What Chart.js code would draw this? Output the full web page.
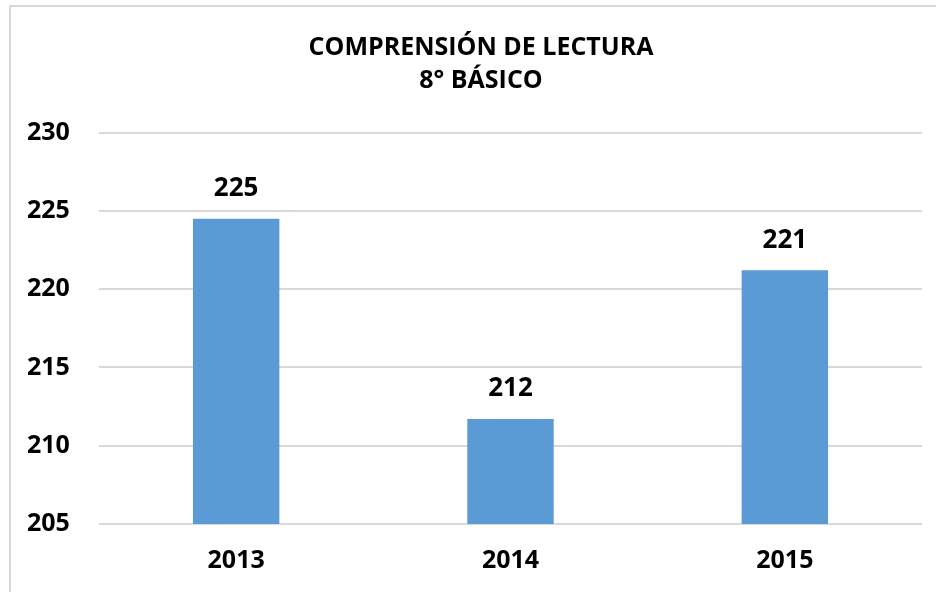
<!DOCTYPE html>
<html>
<head>
<meta charset="utf-8">
<script src="https://cdn.jsdelivr.net/npm/chart.js@4/dist/chart.umd.min.js"></script>
<style>
  html, body { margin: 0; padding: 0; background: #fff; overflow: hidden; }
  #wrap { position: relative; width: 936px; height: 592px; overflow: hidden; }
  #frame { position: absolute; left: 9px; top: 5px; width: 1000px; height: 1000px;
           border-left: 2px solid #d9d9d9; border-top: 2px solid #d9d9d9; }
  canvas { position: absolute; left: 0; top: 0; }
</style>
</head>
<body>
<div id="wrap">
  <div id="frame"></div>
  <canvas id="chart" width="936" height="592"></canvas>
</div>
<script>
var years = ["2013", "2014", "2015"];
var scores = [224.5, 211.7, 221.2];
var scoreLabels = ["225", "212", "221"];
var yTicks = [205, 210, 215, 220, 225, 230];
var titleLines = ["COMPRENSIÓN DE LECTURA", "8° BÁSICO"];

var fontFamily = "'Open Sans', 'Noto Sans', sans-serif";

// draws the value over each bar
var barValues = {
    id: 'barValues',
    afterDatasetsDraw: function(chart) {
        var ctx = chart.ctx;
        var meta = chart.getDatasetMeta(0);
        ctx.save();
        ctx.font = "bold 26px " + fontFamily;
        ctx.fillStyle = "#000";
        ctx.textAlign = "center";
        ctx.textBaseline = "middle";
        meta.data.forEach(function(bar, i) {
            ctx.fillText(scoreLabels[i], bar.x, bar.y - 30);
        });
        ctx.restore();
    }
};

var chart = new Chart(document.getElementById("chart").getContext('2d'), {
    type: 'bar',
    data: {
        labels: years,
        datasets: [{
            data: scores,
            backgroundColor: '#5b9bd5',
            borderWidth: 0,
            barPercentage: 0.63,
            categoryPercentage: 0.5
        }]
    },
    options: {
        responsive: false,
        animation: false,
        // left padding pushes the title centre to the right, like the original
        layout: { padding: { left: 40, right: 14, top: 0, bottom: 0 } },
        plugins: {
            legend: { display: false },
            tooltip: { enabled: false },
            title: {
                display: true,
                text: titleLines,
                color: '#000',
                font: { family: fontFamily, size: 25, weight: 'bold', lineHeight: 1.33 },
                padding: { top: 31, bottom: 35 }
            }
        },
        scales: {
            x: {
                afterFit: function(scale) { scale.height = 68; },
                grid: { display: false, drawTicks: false },
                border: { display: false },
                ticks: {
                    color: '#000',
                    padding: 22,
                    font: { family: fontFamily, size: 25, weight: 'bold' }
                }
            },
            y: {
                min: 205,
                max: 230,
                afterBuildTicks: function(scale) {
                    scale.ticks = yTicks.map(function(v) { return { value: v }; });
                },
                afterFit: function(scale) { scale.width = 59; },
                grid: { color: '#d9d9d9', lineWidth: 2, drawTicks: false },
                border: { display: false },
                ticks: {
                    // mirrored so the labels are not clipped to the narrow axis box
                    mirror: true,
                    padding: -72,
                    color: '#000',
                    font: { family: fontFamily, size: 25, weight: 'bold' }
                }
            }
        }
    },
    plugins: [barValues]
});
</script>
</body>
</html>
